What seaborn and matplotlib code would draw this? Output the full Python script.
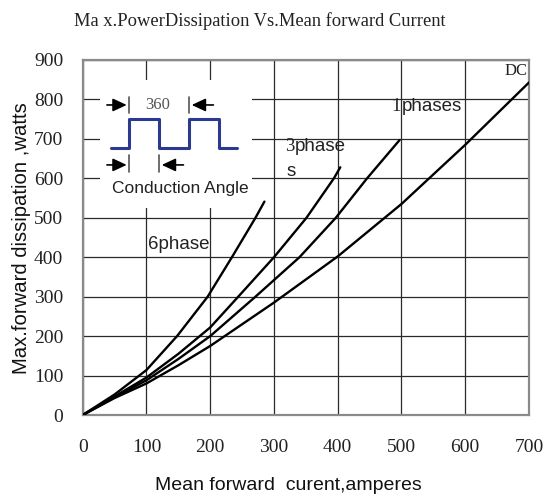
import numpy as np
import pandas as pd
import matplotlib
matplotlib.use("Agg")
import matplotlib.pyplot as plt
import seaborn as sns
from matplotlib.patches import Rectangle

# ---- data ----
six_x = [0, 50, 100, 148, 196, 234, 271, 285]
six_y = [0, 52, 114, 200, 300, 400, 500, 541]
three_x = [0, 50, 100, 150, 200, 244, 300, 351, 394, 404]
three_y = [0, 47, 95, 155, 222, 300, 400, 500, 600, 628]
one_x = [0, 50, 100, 150, 200, 271, 340, 397, 446, 497]
one_y = [0, 45, 88, 142, 200, 300, 400, 500, 600, 697]
dc_x = [0, 50, 100, 150, 200, 250, 300, 400, 500, 600, 700]
dc_y = [0, 43, 80, 126, 175, 230, 285, 402, 535, 685, 843]

x_ticks = [0, 100, 200, 300, 400, 500, 600, 700]
y_ticks = [0, 100, 200, 300, 400, 500, 600, 700, 800, 900]

# square wave of the inset sketch
wave_x = [45, 73, 73, 120, 120, 166, 166, 213, 213, 242]
wave_y = [676, 676, 750, 750, 676, 676, 750, 750, 676, 676]

series = {"6phase": (six_x, six_y), "3phase": (three_x, three_y),
          "1phases": (one_x, one_y), "DC": (dc_x, dc_y)}
df = pd.concat([pd.DataFrame({"current": x, "power": y, "series": k})
                for k, (x, y) in series.items()], ignore_index=True)

sns.set_theme(style="white")
plt.rcParams["font.family"] = ["Liberation Sans", "DejaVu Sans"]

fig = plt.figure(figsize=(5.47, 4.97), dpi=100)
ax = fig.add_axes([82.7 / 547, (497 - 415) / 497, (529 - 82.7) / 547, (415 - 60) / 497])

sns.lineplot(data=df, x="current", y="power", units="series", estimator=None,
             color="black", linewidth=1.7, sort=False, ax=ax, zorder=3)

ax.set_xlim(0, 700)
ax.set_ylim(0, 900)
ax.set_xticks(x_ticks)
ax.set_yticks(y_ticks)
ax.set_xticklabels([str(v) for v in x_ticks], family="Liberation Serif", fontsize=14)
ax.set_yticklabels([str(v) for v in y_ticks], family="Liberation Serif", fontsize=14)
ax.tick_params(axis="x", length=0, pad=17, colors="#222222")
ax.tick_params(axis="y", length=0, pad=14, colors="#222222")
ax.set_axisbelow(True)
ax.grid(True, color="#2a2a2a", linewidth=0.9)
for s in ax.spines.values():
    s.set_color("#8a8a8a")
    s.set_linewidth(1.6)
ax.set_xlabel("")
ax.set_ylabel("")

# white inset area hiding the grid
ax.add_patch(Rectangle((27, 525), 239, 325, facecolor="white", edgecolor="none", zorder=1))

# inset: wave and dimension arrows
ax.plot(wave_x, wave_y, color="#2b3a8f", linewidth=2.2, zorder=4)
arrow_kw = dict(arrowstyle="-|>,head_length=0.6,head_width=0.28", color="black",
                lw=1.2, shrinkA=0, shrinkB=0, mutation_scale=14)
for (x0, x1, y) in [(38, 69, 786), (205, 171, 786), (38, 69, 634), (158, 124, 634)]:
    ax.annotate("", xy=(x1, y), xytext=(x0, y), arrowprops=arrow_kw, zorder=4)
for (xb, y0, y1) in [(73, 765, 807), (166, 765, 807), (73, 617, 659), (120, 617, 659)]:
    ax.plot([xb, xb], [y0, y1], color="#555555", linewidth=1.2, zorder=4)
ax.text(118, 787, "360", family="Liberation Serif", fontsize=12, color="#555555",
        ha="center", va="center", zorder=4)
ax.text(153, 575, "Conduction Angle", fontsize=12.5, color="#222222",
        ha="center", va="center", zorder=4)

# curve labels
ax.text(103, 431, "6phase", fontsize=13.5, color="#222222", ha="left", va="center")
ax.text(318, 680, "3", family="Liberation Serif", fontsize=13.5, color="#222222",
        ha="left", va="center")
ax.text(332, 680, "phase", fontsize=13.5, color="#222222", ha="left", va="center")
ax.text(320, 617, "s", fontsize=13.5, color="#222222", ha="left", va="center")
ax.text(484, 782, "1", family="Liberation Serif", fontsize=13.5, color="#222222",
        ha="left", va="center")
ax.text(500, 782, "phases", fontsize=13.5, color="#222222", ha="left", va="center")
ax.text(697, 873, "DC", family="Liberation Serif", fontsize=12, color="#222222",
        ha="right", va="center")

# titles and axis labels
fig.text(74 / 547, 1 - 21 / 497, "Ma x.PowerDissipation Vs.Mean forward Current",
         family="Liberation Serif", fontsize=13.3, color="#222222", ha="left", va="center")
fig.text(288 / 547, 1 - 485 / 497, "Mean forward  curent,amperes", fontsize=14,
         color="#111111", ha="center", va="center")
fig.text(21.7 / 547, 1 - 238 / 497, "Max.forward dissipation ,watts", fontsize=14.6,
         color="#111111", ha="center", va="center", rotation=90)

fig.savefig("out.png", dpi=100)
